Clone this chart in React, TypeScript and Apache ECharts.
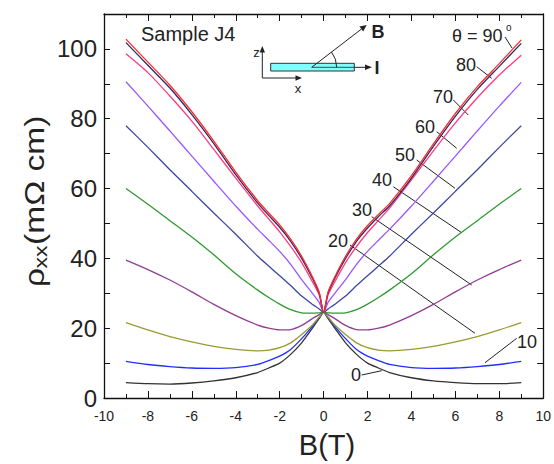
import React, { useEffect, useRef } from "react";
import * as echarts from "echarts";

// ---- data ----
const fieldB = [-9, -8, -7, -6, -5, -4, -3, -2.5, -2, -1.5, -1, -0.5, -0.2, 0, 0.2, 0.5, 1, 1.5, 2, 2.5, 3, 4, 5, 6, 7, 8, 9];

const rhoTheta0 = [4.4, 4.1, 4.0, 4.3, 4.9, 5.8, 7.3, 8.6, 10.0, 12.5, 15.8, 20.1, 22.8, 24.5, 22.8, 20.1, 15.8, 12.5, 10.0, 8.6, 7.3, 5.8, 4.9, 4.4, 4.1, 4.1, 4.4];
const rhoTheta10 = [10.5, 9.6, 9.0, 8.6, 8.5, 8.7, 9.6, 10.7, 12.0, 13.9, 17.0, 20.6, 23.0, 24.5, 23.0, 20.6, 17.0, 13.9, 12.0, 10.7, 9.6, 8.7, 8.5, 8.6, 9.0, 9.6, 10.5];
const rhoTheta20 = [21.6, 19.5, 17.6, 16.1, 14.8, 13.9, 13.5, 13.7, 14.4, 15.8, 18.2, 21.0, 23.2, 24.5, 23.2, 21.0, 18.2, 15.8, 14.4, 13.7, 13.5, 13.9, 14.8, 16.1, 17.6, 19.5, 21.6];
const rhoTheta30 = [39.5, 36.8, 33.8, 30.4, 26.8, 23.6, 20.9, 20.0, 19.5, 19.6, 20.8, 22.8, 23.9, 24.5, 23.9, 22.8, 20.8, 19.6, 19.5, 20.0, 20.9, 23.6, 26.8, 30.4, 33.8, 36.8, 39.5];
const rhoTheta40 = [60.0, 55.5, 50.8, 46.1, 41.0, 35.6, 30.9, 28.8, 26.9, 25.3, 24.4, 24.3, 24.4, 24.5, 24.4, 24.3, 24.4, 25.3, 26.9, 28.8, 30.9, 35.6, 41.0, 46.1, 50.8, 55.5, 60.0];
const rhoTheta50 = [78.0, 71.8, 65.4, 59.2, 53.0, 46.9, 40.6, 37.8, 35.0, 32.2, 29.2, 26.8, 25.5, 24.5, 25.5, 26.8, 29.2, 32.2, 35.0, 37.8, 40.6, 46.9, 53.0, 59.2, 65.4, 71.8, 78.0];
const rhoTheta60 = [90.6, 83.6, 76.5, 69.3, 62.1, 55.0, 48.3, 45.2, 42.0, 38.3, 33.9, 29.9, 27.4, 24.5, 27.4, 29.9, 33.9, 38.3, 42.0, 45.2, 48.3, 55.0, 62.1, 69.3, 76.5, 83.6, 90.4];
const rhoTheta70 = [98.6, 93.2, 86.5, 79.3, 71.2, 63.0, 55.0, 51.3, 47.6, 43.4, 38.8, 33.2, 29.5, 24.5, 29.5, 33.2, 38.8, 43.4, 47.4, 50.9, 54.4, 62.5, 70.8, 78.8, 86.0, 92.5, 98.2];
const rhoTheta80 = [101.8, 95.3, 88.8, 81.2, 72.9, 64.0, 55.8, 52.3, 48.9, 44.9, 40.0, 34.2, 30.0, 24.5, 30.0, 34.2, 40.0, 44.9, 48.7, 52.0, 55.0, 63.0, 72.1, 80.7, 88.4, 95.0, 101.6];
const rhoTheta90 = [102.8, 96.2, 89.6, 82.0, 73.6, 64.7, 56.5, 53.0, 49.6, 45.5, 40.6, 34.6, 30.3, 24.5, 30.3, 34.6, 40.6, 45.5, 49.4, 52.6, 55.7, 63.7, 72.8, 81.5, 89.2, 95.8, 102.6];

const thetaLabels = ["0", "10", "20", "30", "40", "50", "60", "70", "80", "90"];
const rhoSeries = [rhoTheta0, rhoTheta10, rhoTheta20, rhoTheta30, rhoTheta40, rhoTheta50, rhoTheta60, rhoTheta70, rhoTheta80, rhoTheta90];

// ---- styles ----
const curveColors = ["#333333", "#1f2eff", "#9a9a30", "#933c93", "#2f9a2f", "#3c47a0", "#9a55ff", "#ff3a80", "#2a2a66", "#ff2a2a"];

const FONT = "Liberation Sans, Arial, Helvetica, sans-serif";
const TXT = "#222";

// annotation layout (pixels)
const labelPos: Record<string, [number, number]> = {
  "80": [466, 65],
  "70": [443, 97],
  "60": [425, 127],
  "50": [405, 155],
  "40": [382, 180],
  "30": [362, 210],
  "20": [338, 241],
  "10": [527, 342],
  "0": [356, 375],
};
const leaders: [number, number, number, number][] = [
  [505, 37, 512, 48],
  [476.7, 66.7, 491.7, 78.3],
  [453.3, 100, 468.3, 115],
  [436.7, 131.7, 456.7, 148.3],
  [416.7, 160, 455, 188.3],
  [393.3, 186.7, 461.7, 232.7],
  [371.7, 216.7, 471.7, 285],
  [350, 245, 475, 333.3],
  [516.7, 338.3, 485, 362.7],
  [361.7, 375, 381.7, 370.7],
];

function buildGraphic() {
  const els: any[] = [];
  const txt = (text: string, x: number, y: number, size: number, align = "center", weight = "normal") => ({
    type: "text",
    x,
    y,
    style: {
      text,
      fill: TXT,
      font: `${weight} ${size}px ${FONT}`,
      textAlign: align,
      textVerticalAlign: "middle",
    },
  });
  const line = (x1: number, y1: number, x2: number, y2: number, w = 1) => ({
    type: "line",
    shape: { x1, y1, x2, y2 },
    style: { stroke: "#222", lineWidth: w },
  });
  const head = (pts: number[][]) => ({
    type: "polygon",
    shape: { points: pts },
    style: { fill: "#222" },
  });

  leaders.forEach((l) => els.push(line(l[0], l[1], l[2], l[3], 1)));
  Object.keys(labelPos).forEach((k) => els.push(txt(k, labelPos[k][0], labelPos[k][1], 18)));
  els.push(txt("\u03B8 = 90", 452, 36, 18, "left"));
  els.push(txt("o", 506, 27, 10, "left"));
  els.push(txt("Sample J4", 141, 34, 20, "left"));

  // inset
  els.push({
    type: "rect",
    shape: { x: 270.7, y: 63.3, width: 83.6, height: 7.7 },
    style: { fill: "#80ffff", stroke: "#333", lineWidth: 1 },
  });
  els.push(line(311.7, 67.3, 354.3, 67.3, 0.8));
  els.push(line(354.3, 67.3, 366, 67.3, 1));
  els.push(head([[372, 67.3], [365, 64.6], [365, 70]]));
  els.push(txt("I", 377, 67.5, 18, "center", "bold"));
  els.push(line(262.3, 78, 262.3, 51, 1));
  els.push(head([[262.3, 46], [259.6, 52.5], [265, 52.5]]));
  els.push(line(262.3, 78, 296, 78, 1));
  els.push(head([[302, 78], [295.5, 75.3], [295.5, 80.7]]));
  els.push(txt("z", 256.5, 52, 13));
  els.push(txt("x", 298, 88.5, 13));
  els.push(line(311.7, 67.3, 361.5, 29, 1));
  els.push(head([[366.7, 25], [363.2, 31.6], [359.4, 26.6]]));
  els.push(txt("B", 378, 32, 18, "center", "bold"));
  els.push({
    type: "arc",
    shape: { cx: 311.7, cy: 67.3, r: 25, startAngle: -0.656, endAngle: 0, clockwise: true },
    style: { stroke: "#222", lineWidth: 1, fill: "none" },
  });

  // axis titles
  els.push(txt("B(T)", 327, 445, 29));
  els.push({
    type: "group",
    x: 34,
    y: 287,
    rotation: Math.PI / 2,
    scaleX: 1.2,
    children: [
      { type: "text", x: 0, y: 0, style: { text: "\u03C1", fill: TXT, font: `28px ${FONT}`, textAlign: "left", textVerticalAlign: "middle" } },
      { type: "text", x: 15.5, y: 6, style: { text: "xx", fill: TXT, font: `19px ${FONT}`, textAlign: "left", textVerticalAlign: "middle" } },
      { type: "text", x: 35, y: 0, style: { text: "(m\u03A9 cm)", fill: TXT, font: `28px ${FONT}`, textAlign: "left", textVerticalAlign: "middle" } },
    ],
  });
  return els;
}

export default function App() {
  const ref = useRef<HTMLDivElement>(null);
  useEffect(() => {
    if (!ref.current) return;
    const chart = echarts.init(ref.current, null, { renderer: "svg" });
    const axisLine = { show: true, onZero: false, lineStyle: { color: "#111", width: 1.3 } };
    const xBase = {
      type: "value",
      min: -10,
      max: 10,
      interval: 2,
      axisLine,
      axisTick: { show: true, inside: true, length: 7, lineStyle: { color: "#111", width: 1 } },
      minorTick: { show: true, splitNumber: 2, length: 4, lineStyle: { color: "#111", width: 1 } },
      splitLine: { show: false },
      minorSplitLine: { show: false },
    };
    const yBase = {
      type: "value",
      min: 0,
      max: 110,
      interval: 20,
      axisLine,
      axisTick: { show: true, inside: true, length: 6, lineStyle: { color: "#111", width: 1 } },
      minorTick: { show: true, splitNumber: 2, length: 6, lineStyle: { color: "#111", width: 1 } },
      splitLine: { show: false },
      minorSplitLine: { show: false },
    };
    const series = rhoSeries.map((vals, i) => ({
      type: "line",
      name: thetaLabels[i],
      xAxisIndex: 0,
      yAxisIndex: 0,
      data: fieldB.map((b, j) => [b, vals[j]]),
      showSymbol: false,
      smooth: 0.25,
      lineStyle: { color: curveColors[i], width: 1.3 },
      itemStyle: { color: curveColors[i] },
      z: 2 + i,
    }));
    chart.setOption({
      animation: false,
      backgroundColor: "#ffffff",
      grid: { left: 104, right: 9, top: 14, bottom: 66, containLabel: false },
      xAxis: [
        {
          ...xBase,
          position: "bottom",
          axisLabel: { show: true, fontSize: 14, color: TXT, fontFamily: FONT, margin: 11 },
        },
        { ...xBase, position: "top", axisLabel: { show: false } },
      ],
      yAxis: [
        {
          ...yBase,
          position: "left",
          axisLabel: {
            show: true,
            fontSize: 24,
            color: TXT,
            fontFamily: FONT,
            margin: 7,
            formatter: (v: number) => (v > 100 ? "" : String(v)),
          },
        },
        { ...yBase, position: "right", axisLabel: { show: false } },
      ],
      series,
      graphic: buildGraphic(),
    });
    return () => chart.dispose();
  }, []);
  return <div ref={ref} style={{ width: 554, height: 464, position: "absolute", left: 0, top: 0 }} />;
}
